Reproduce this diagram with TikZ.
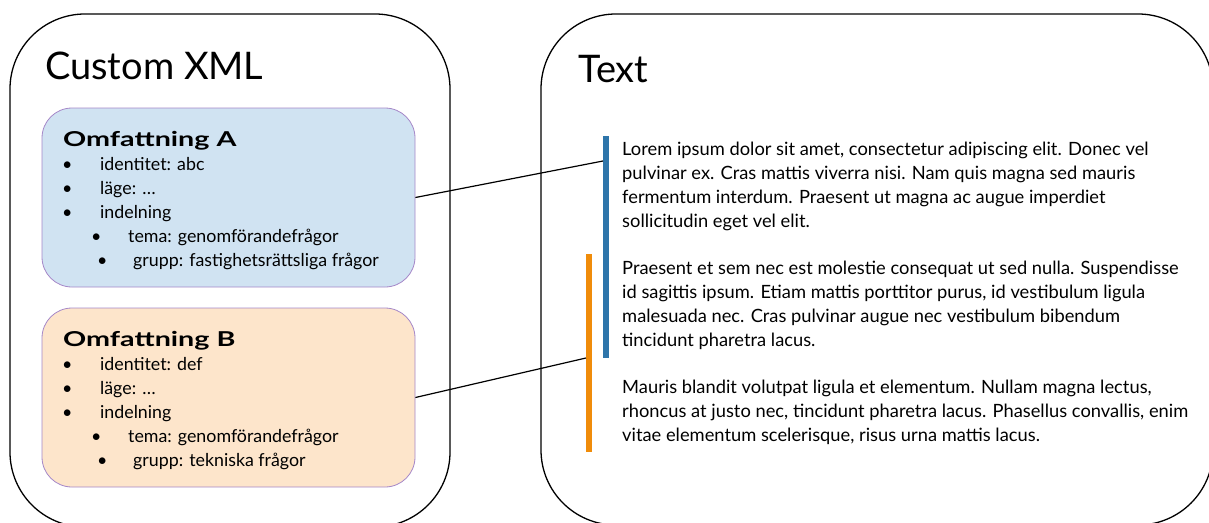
\documentclass[tikz,border=0pt]{standalone}
\usepackage{fontspec}
\setmainfont{Lato}
\usepackage{tikz}

\definecolor{boxblue}{RGB}{208,227,242}
\definecolor{boxorange}{RGB}{253,229,203}
\definecolor{boxedge}{RGB}{165,135,200}
\definecolor{barblue}{RGB}{46,117,170}
\definecolor{barorange}{RGB}{240,140,10}

\begin{document}
\begin{tikzpicture}[x=1pt, y=-1pt]
    % ==========================
    % Settings
    % ==========================
    \def\lh{24} % line height
    \tikzset{
        outerbox/.style={draw, line width=1.3pt, rounded corners=75pt, inner sep=0pt},
        scopebox/.style={draw=boxedge, line width=0.8pt, rounded corners=30pt, inner sep=0pt,
                         minimum width=373pt, minimum height=179pt},
        bigtitle/.style={anchor=base west, inner sep=0pt, font=\fontsize{38}{42}\selectfont},
        scopehead/.style={anchor=base west, inner sep=0pt, font=\fontsize{20.5}{24}\selectfont\bfseries},
        itemtext/.style={anchor=base west, inner sep=0pt, font=\fontsize{17.8}{20}\selectfont},
        paraline/.style={anchor=base west, inner sep=0pt, font=\fontsize{18.3}{20}\selectfont},
        bar/.style={inner sep=0pt, minimum width=6pt},
        link/.style={line width=1.2pt}
    }
    \useasboundingbox (0,0) rectangle (1209,522);
    \clip (0,0) rectangle (1209,522);

    % ==========================
    % 1. Custom XML
    % ==========================
    \node[outerbox, minimum width=440pt, minimum height=513pt] (xml) at (230,270.5) {};
    \node[bigtitle] (xmltitle) at (45,79) {Custom XML};

    % Omfattning A
    \node[scopebox, fill=boxblue] (scopeA) at (228.5,197.5) {};
    \node[scopehead] (headA) at (63,146) {\scalebox{1.4}[1]{Omfattning A}};
    \foreach \txt [count=\i] in {identitet: abc, läge: \dots, indelning} {
        \node[itemtext] (bA\i) at (62,146+\i*\lh) {•};
        \node[itemtext] (iA\i) at (100,146+\i*\lh) {\txt};
    }
    \node[itemtext] (bA4) at (91,242) {•};
    \node[itemtext] (iA4) at (128,242) {tema: genomförandefrågor};
    \node[itemtext] (bA5) at (97,266) {•};
    \node[itemtext] (iA5) at (133,266) {grupp: fastighetsrättsliga frågor};

    % Omfattning B
    \node[scopebox, fill=boxorange] (scopeB) at (228.5,397.5) {};
    \node[scopehead] (headB) at (63,346) {\scalebox{1.4}[1]{Omfattning B}};
    \foreach \txt [count=\i] in {identitet: def, läge: \dots, indelning} {
        \node[itemtext] (bB\i) at (62,346+\i*\lh) {•};
        \node[itemtext] (iB\i) at (100,346+\i*\lh) {\txt};
    }
    \node[itemtext] (bB4) at (91,442) {•};
    \node[itemtext] (iB4) at (128,442) {tema: genomförandefrågor};
    \node[itemtext] (bB5) at (97,466) {•};
    \node[itemtext] (iB5) at (133,466) {grupp: tekniska frågor};

    % ==========================
    % 2. Text
    % ==========================
    \node[outerbox, minimum width=672pt, minimum height=511pt] (txt) at (877,269.5) {};
    \node[bigtitle] (txttitle) at (578,82) {Text};

    % markeringar
    \node[bar, fill=barorange, minimum height=198pt, anchor=north west] (barB) at (586,254) {};
    \node[bar, fill=barblue, minimum height=222pt, anchor=north west] (barA) at (603,136) {};

    % stycken
    \foreach \ln [count=\i] in {
        {Lorem ipsum dolor sit amet, consectetur adipiscing elit. Donec vel},
        {pulvinar ex. Cras mattis viverra nisi. Nam quis magna sed mauris},
        {fermentum interdum. Praesent ut magna ac augue imperdiet},
        {sollicitudin eget vel elit.}} {
        \node[paraline] (p1-\i) at (622,131+\i*\lh) {\ln};
    }
    \foreach \ln [count=\i] in {
        {Praesent et sem nec est molestie consequat ut sed nulla. Suspendisse},
        {id sagittis ipsum. Etiam mattis porttitor purus, id vestibulum ligula},
        {malesuada nec. Cras pulvinar augue nec vestibulum bibendum},
        {tincidunt pharetra lacus.}} {
        \node[paraline] (p2-\i) at (622,250+\i*\lh) {\ln};
    }
    \foreach \ln [count=\i] in {
        {Mauris blandit volutpat ligula et elementum. Nullam magna lectus,},
        {rhoncus at justo nec, tincidunt pharetra lacus. Phasellus convallis, enim},
        {vitae elementum scelerisque, risus urna mattis lacus.}} {
        \node[paraline] (p3-\i) at (622,369+\i*\lh) {\ln};
    }

    % ==========================
    % 3. Kopplingar
    % ==========================
    \coordinate (endA) at (603,161);
    \coordinate (endB) at (586,358);
    \draw[link] (scopeA.east) -- (endA);
    \draw[link] (scopeB.east) -- (endB);

\end{tikzpicture}
\end{document}
